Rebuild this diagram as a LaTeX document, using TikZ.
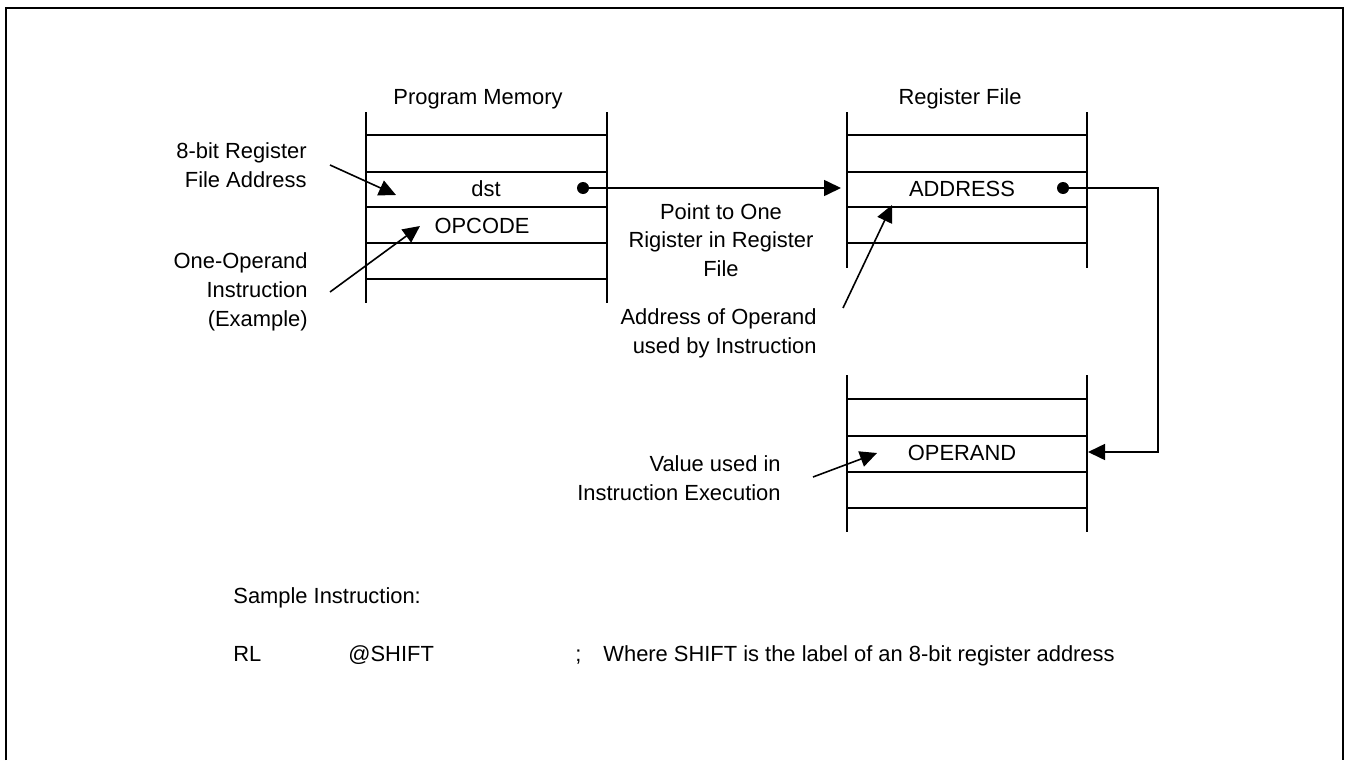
\documentclass[tikz,border=0pt]{standalone}
\usepackage{fontspec}
\setmainfont{Liberation Sans}
\usetikzlibrary{arrows.meta}
\begin{document}
\begin{tikzpicture}[x=0.5pt,y=-0.5pt,
  font=\fontsize{10.95pt}{14.4pt}\selectfont,
  tbl/.style={line width=0.85pt},
  frm/.style={line width=1.1pt},
  lbl/.style={inner sep=0pt},
  ptr/.style={line width=0.8pt,-{Triangle[length=8.5pt,width=8pt]}},
  dotc/.style={fill,circle,inner sep=0pt,minimum size=6pt}]
\useasboundingbox (0,0) rectangle (1348,760);
% outer frame
\draw[frm] (6,760) -- (6,8) -- (1343,8) -- (1343,760);
% Program Memory table
\foreach \x in {366,607} \draw[tbl] (\x,112) -- (\x,303);
\foreach \y in {135,172,207,243,279} \draw[tbl] (366,\y) -- (607,\y);
\node[lbl] (pmt) at (478,99) {Program Memory};
\node[lbl] (dst) at (486,189) {dst};
\node[lbl] (opc) at (482,226) {OPCODE};
% Register File table
\foreach \x in {847,1087} \draw[tbl] (\x,112) -- (\x,268);
\foreach \y in {135,172,207,243} \draw[tbl] (847,\y) -- (1087,\y);
\node[lbl] (rft) at (960,99) {Register File};
\node[lbl] (addr) at (962,189) {ADDRESS};
% lower table
\foreach \x in {847,1087} \draw[tbl] (\x,375) -- (\x,532);
\foreach \y in {399,436,472,508} \draw[tbl] (847,\y) -- (1087,\y);
\node[lbl] (opnd) at (962,453) {OPERAND};
% dots and pointer connectors
\node[dotc] (d1) at (583,188) {};
\node[dotc] (d2) at (1063,188) {};
\coordinate (ain) at (841,188);
\coordinate (turn) at (1158,188);
\coordinate (oin) at (1088,452);
\draw[ptr] (d1.center) -- (ain);
\draw[ptr] (d2.center) -- (turn) |- (oin);
% left labels
\node[lbl,align=right,anchor=east] (l8) at (307,165) {8-bit Register\\File Address};
\node[lbl,align=right,anchor=east] (l1) at (308,292) {One-Operand\\Instruction\\(Example)};
\coordinate (t8) at (396,195);
\coordinate (s8) at (330,165);
\coordinate (t1) at (420,226);
\coordinate (s1) at (330,292);
\draw[ptr] (s8) -- (t8);
\draw[ptr] (s1) -- (t1);
% middle labels
\node[lbl,align=center] (pto) at (721,240) {Point to One\\Rigister in Register\\File};
\node[lbl,align=right,anchor=east] (aoo) at (817,333) {Address of Operand\\used by Instruction};
\coordinate (sa) at (843,308);
\coordinate (ta) at (892,205);
\draw[ptr] (sa) -- (ta);
\node[lbl,align=right,anchor=east] (vui) at (781,478) {Value used in\\Instruction Execution};
\coordinate (sv) at (813,477);
\coordinate (tv) at (877,453);
\draw[ptr] (sv) -- (tv);
% sample instruction
\node[lbl,anchor=base west] (si) at (233,603) {Sample Instruction:};
\node[lbl,anchor=base west] (rl) at (233,661) {RL};
\node[lbl,anchor=base west] (sh) at (348,661) {@SHIFT};
\node[lbl,anchor=base west] (sc) at (575,661) {;};
\node[lbl,anchor=base west] (cm) at (603,661) {Where SHIFT is the label of an 8-bit register address};
\end{tikzpicture}
\end{document}
